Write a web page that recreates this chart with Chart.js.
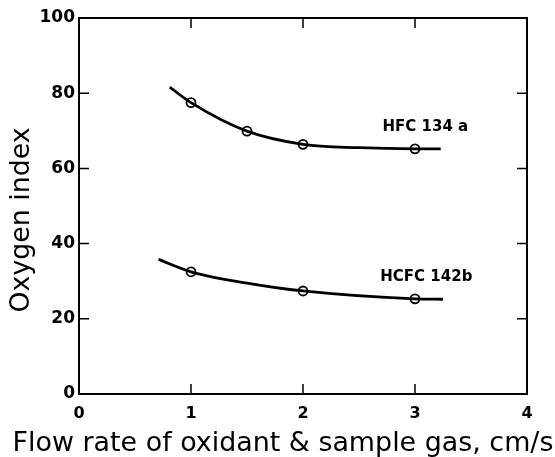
<!DOCTYPE html>
<html>
<head>
<meta charset="utf-8">
<script src="https://cdn.jsdelivr.net/npm/chart.js@4/dist/chart.umd.min.js"></script>
<style>
  html, body { margin: 0; padding: 0; background: #fff; }
  #wrap { width: 555px; height: 457px; }
</style>
</head>
<body>
<div id="wrap"><canvas id="chart"></canvas></div>
<script>
// Values (x = flow rate, cm/s ; y = oxygen index)
const hfcCurveX  = [0.81, 1.0, 1.5, 2.0, 2.5, 3.0, 3.23];
const hfcCurveY  = [81.6, 77.5, 69.9, 66.4, 65.5, 65.2, 65.2];
const hfcPointX  = [1.0, 1.5, 2.0, 3.0];
const hfcPointY  = [77.5, 69.9, 66.4, 65.2];

const hcfcCurveX = [0.71, 1.0, 1.5, 2.0, 3.0, 3.25];
const hcfcCurveY = [35.8, 32.5, 29.5, 27.4, 25.3, 25.2];
const hcfcPointX = [1.0, 2.0, 3.0];
const hcfcPointY = [32.5, 27.4, 25.3];

const seriesNames = ['HFC 134 a', 'HCFC 142b'];
const xTicks = [0, 1, 2, 3, 4];
const yTicks = [0, 20, 40, 60, 80, 100];
const xTitle = 'Flow rate of oxidant & sample gas, cm/s';
const yTitle = 'Oxygen index';

// builds {x, y} pairs for chart.js
function pairs(xs, ys) {
    return xs.map((x, i) => ({ x: x, y: ys[i] }));
}

// where the series names sit, in data units
const nameAnchors = [
    { x: 2.71, y: 71.0 },
    { x: 2.69, y: 31.1 }
];

// picks a font size so the text is about the wanted length
function fitFont(ctx, text, want) {
    ctx.font = '20px "DejaVu Sans"';
    const size = 20 * want / ctx.measureText(text).width;
    ctx.font = size.toFixed(1) + 'px "DejaVu Sans"';
}

// frame round the plot, inward ticks, series names and axis titles
const framePlugin = {
    id: 'frame',
    afterDatasetsDraw(chart) {
        const ctx = chart.ctx;
        const a = chart.chartArea;
        const xs = chart.scales.x;
        const ys = chart.scales.y;
        ctx.save();
        ctx.strokeStyle = '#000';
        ctx.lineWidth = 2;
        ctx.strokeRect(a.left, a.top, a.right - a.left, a.bottom - a.top);
        ctx.lineWidth = 1.5;
        ctx.beginPath();
        xTicks.slice(1, -1).forEach(v => {
            const px = xs.getPixelForValue(v);
            ctx.moveTo(px, a.bottom);
            ctx.lineTo(px, a.bottom - 10);
            ctx.moveTo(px, a.top);
            ctx.lineTo(px, a.top + 10);
        });
        yTicks.slice(1, -1).forEach(v => {
            const py = ys.getPixelForValue(v);
            ctx.moveTo(a.left, py);
            ctx.lineTo(a.left + 10, py);
            ctx.moveTo(a.right, py);
            ctx.lineTo(a.right - 10, py);
        });
        ctx.stroke();

        ctx.fillStyle = '#000';
        ctx.font = 'bold 15px "DejaVu Sans"';
        ctx.textAlign = 'left';
        ctx.textBaseline = 'middle';
        seriesNames.forEach((name, i) => {
            ctx.fillText(name, xs.getPixelForValue(nameAnchors[i].x), ys.getPixelForValue(nameAnchors[i].y));
        });

        // axis titles
        ctx.textAlign = 'center';
        fitFont(ctx, xTitle, 540);
        ctx.fillText(xTitle, 283, 444);
        ctx.translate(22, 220);
        ctx.rotate(-Math.PI / 2);
        fitFont(ctx, yTitle, 185);
        ctx.fillText(yTitle, 0, 0);
        ctx.restore();
    }
};

const curveStyle = {
    showLine: true,
    borderColor: '#000',
    borderWidth: 2.8,
    pointRadius: 0,
    cubicInterpolationMode: 'monotone',
    fill: false
};
const markStyle = {
    showLine: false,
    pointRadius: 4.5,
    pointBorderWidth: 1.8,
    pointBorderColor: '#000',
    pointBackgroundColor: '#fff'
};

new Chart(document.getElementById('chart').getContext('2d'), {
    type: 'scatter',
    data: {
        datasets: [
            Object.assign({ label: seriesNames[0] + ' fit', data: pairs(hfcCurveX, hfcCurveY) }, curveStyle),
            Object.assign({ label: seriesNames[1] + ' fit', data: pairs(hcfcCurveX, hcfcCurveY) }, curveStyle),
            Object.assign({ label: seriesNames[0], data: pairs(hfcPointX, hfcPointY) }, markStyle),
            Object.assign({ label: seriesNames[1], data: pairs(hcfcPointX, hcfcPointY) }, markStyle)
        ]
    },
    options: {
        responsive: true,
        maintainAspectRatio: false,
        animation: false,
        layout: { padding: { top: 18, right: 28, left: 0, bottom: 0 } },
        scales: {
            x: {
                type: 'linear',
                min: 0,
                max: 4,
                afterBuildTicks: (s) => { s.ticks = xTicks.map(v => ({ value: v })); },
                afterFit: (s) => { s.height = 63; },
                grid: { display: false, tickLength: 0 },
                border: { display: false },
                ticks: { color: '#000', padding: 10, font: { family: 'DejaVu Sans', size: 16, weight: 'bold' } }
            },
            y: {
                min: 0,
                max: 100,
                afterBuildTicks: (s) => { s.ticks = yTicks.map(v => ({ value: v })); },
                afterFit: (s) => { s.width = 79; },
                grid: { display: false, tickLength: 0 },
                border: { display: false },
                ticks: { color: '#000', padding: 4, font: { family: 'DejaVu Sans', size: 17, weight: 'bold' } }
            }
        },
        plugins: {
            legend: { display: false },
            tooltip: { enabled: false }
        }
    },
    plugins: [framePlugin]
});
</script>
</body>
</html>
